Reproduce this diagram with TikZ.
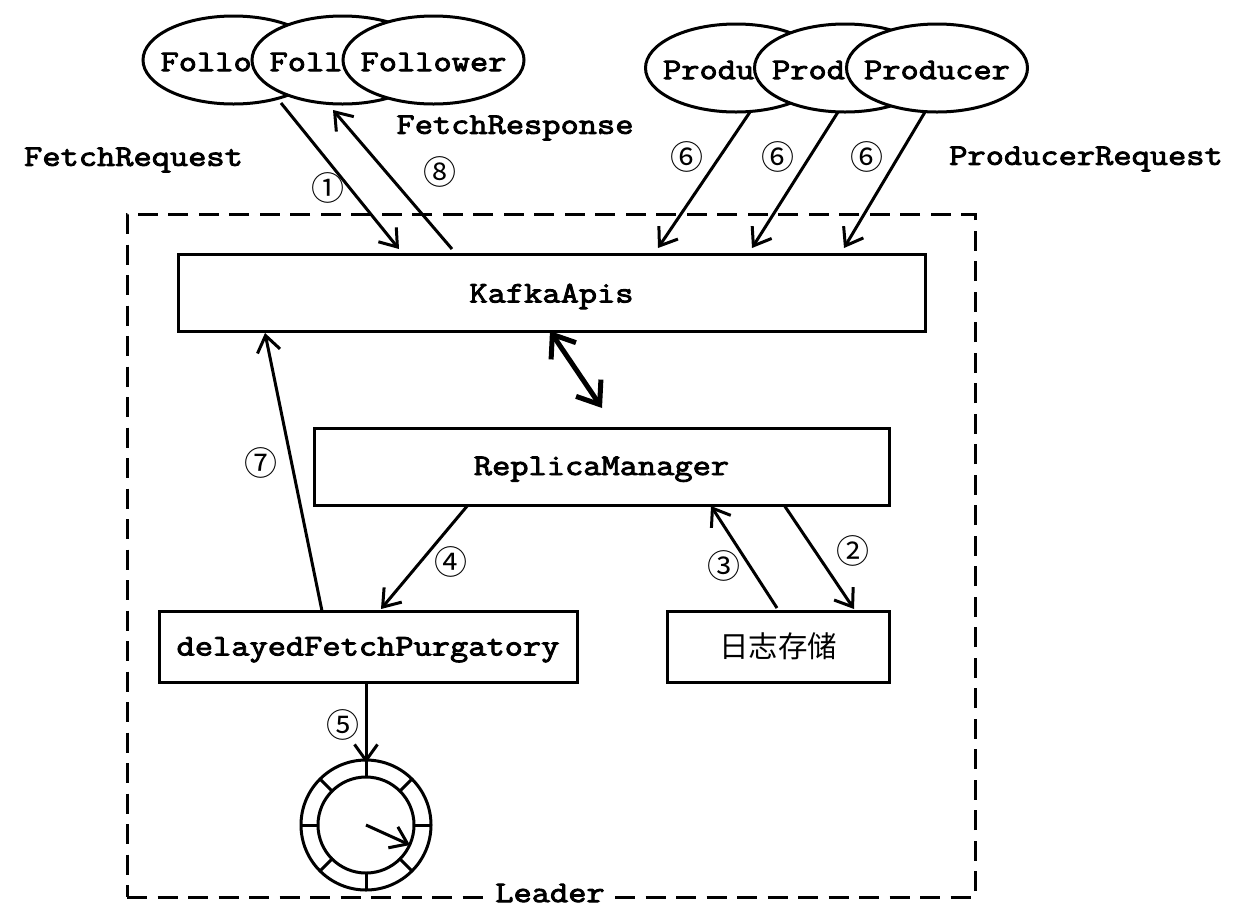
\documentclass[tikz,border=0pt]{standalone}
\usepackage{fontspec}
\usetikzlibrary{arrows.meta,shapes.geometric}
\newfontfamily\cjkf{Noto Sans CJK SC}
\newfontfamily\monof[FakeBold=3,FakeStretch=1.18]{Latin Modern Mono}
\tikzset{
  lbl/.style={font=\monof\fontsize{30}{32}\selectfont, inner sep=0pt, outer sep=0pt},
  num/.style={font=\cjkf\fontsize{33}{35}\selectfont, inner sep=0pt},
  oval/.style={shape=ellipse, draw, fill=white, minimum width=181, minimum height=88, inner sep=0pt, outer sep=0pt},
  boxx/.style={lbl, draw, fill=white, rectangle},
  arr/.style={-{Straight Barb[length=16pt,width=23pt,line width=3pt]}},
  thickarr/.style={{Straight Barb[length=20pt,width=30pt,line width=5pt]}-{Straight Barb[length=20pt,width=30pt,line width=5pt]},line width=5pt},
}
\begin{document}
\begin{tikzpicture}[x=1pt,y=-1pt,line width=3pt]
\useasboundingbox (0,0) rectangle (1244,906);
\fill[white] (0,0) rectangle (1244,906);
% frame
\node[rectangle, draw, dash pattern=on 20pt off 10.5pt, minimum width=848, minimum height=683, inner sep=0, outer sep=0] (frame) at (551,555.5) {};
\node[lbl, fill=white, inner xsep=6pt, inner ysep=0pt] (leader) at (550,893) {Leader};
% ellipses
\node[oval, label={[lbl,yshift=-2pt]center:Follower}] (f1) at (233.5,60) {};
\node[oval, label={[lbl,yshift=-2pt]center:Follower}] (f2) at (342.5,60) {};
\node[oval, label={[lbl,yshift=-2pt]center:Follower}] (f3) at (433.5,60) {};
\node[oval, label={[lbl,yshift=-2pt]center:Producer}] (p1) at (736,68) {};
\node[oval, label={[lbl,yshift=-2pt]center:Producer}] (p2) at (845,68) {};
\node[oval, label={[lbl,yshift=-2pt]center:Producer}] (p3) at (937,68) {};
% boxes
\node[boxx, minimum width=747, minimum height=77] (kafka) at (551.5,292.5) {\raisebox{-10pt}[0pt][0pt]{KafkaApis}};
\node[boxx, minimum width=575, minimum height=77] (replica) at (601.5,466.5) {\raisebox{-8.5pt}[0pt][0pt]{ReplicaManager}};
\node[boxx, minimum width=418, minimum height=71] (delayed) at (368,646.5) {\raisebox{-9pt}[0pt][0pt]{delayedFetchPurgatory}};
\node[boxx, minimum width=222, minimum height=71, font=\cjkf\fontsize{29.5}{31}\selectfont] (store) at (778,646.5) {日志存储};
% clock
\node[circle, draw, minimum size=130, inner sep=0, outer sep=0] (clock) at (366,825) {};
\node[circle, draw, minimum size=96, inner sep=0, outer sep=0] (clocki) at (366,825) {};
\foreach \a in {0,45,...,315} \draw (clock.\a) -- (clocki.\a);
\draw[arr] (clock.center) -- ([shift={(44,20)}]clock.center);
% connectors
\draw[arr] ([shift={(-61.5,-1)}]f2.south) -- ([shift={(-152.5,-5)}]kafka.north);
\draw[arr] ([shift={(-99.5,-5)}]kafka.north) -- ([shift={(-9.5,6)}]f2.south);
\draw[arr] ([shift={(14,0)}]p1.south) -- ([shift={(106.5,-6)}]kafka.north);
\draw[arr] ([shift={(-7,0)}]p2.south) -- ([shift={(200.5,-6)}]kafka.north);
\draw[arr] ([shift={(-12,0)}]p3.south) -- ([shift={(292.5,-6)}]kafka.north);
\draw[thickarr] ([shift={(-1.5,0)}]kafka.south) -- ([shift={(0.5,-20)}]replica.north);
\draw[arr] ([shift={(-46,0)}]delayed.north) -- ([shift={(-286.5,2)}]kafka.south);
\draw[arr] ([shift={(-133.5,0)}]replica.south) -- ([shift={(13,-2)}]delayed.north);
\draw[arr] ([shift={(-2,0)}]delayed.south) -- ([shift={(0,3)}]clock.north);
\draw[arr] ([shift={(-1,-3)}]store.north) -- ([shift={(109.5,1)}]replica.south);
\draw[arr] ([shift={(182.5,0)}]replica.south) -- ([shift={(76,-2)}]store.north);
% labels
\node[lbl] (lreq) at (133.5,160) {FetchRequest};
\node[lbl] (lresp) at (515,128) {FetchResponse};
\node[lbl] (lprod) at (1086,159) {ProducerRequest};
\node[num] (n1) at (328,188) {①};
\node[num] (n8) at (440,172) {⑧};
\node[num] (n6a) at (687,157) {⑥};
\node[num] (n6b) at (778,157) {⑥};
\node[num] (n6c) at (867,157) {⑥};
\node[num] (n7) at (261,463) {⑦};
\node[num] (n4) at (451,562) {④};
\node[num] (n5) at (343,725) {⑤};
\node[num] (n3) at (724,566) {③};
\node[num] (n2) at (853,551) {②};
\end{tikzpicture}
\end{document}
